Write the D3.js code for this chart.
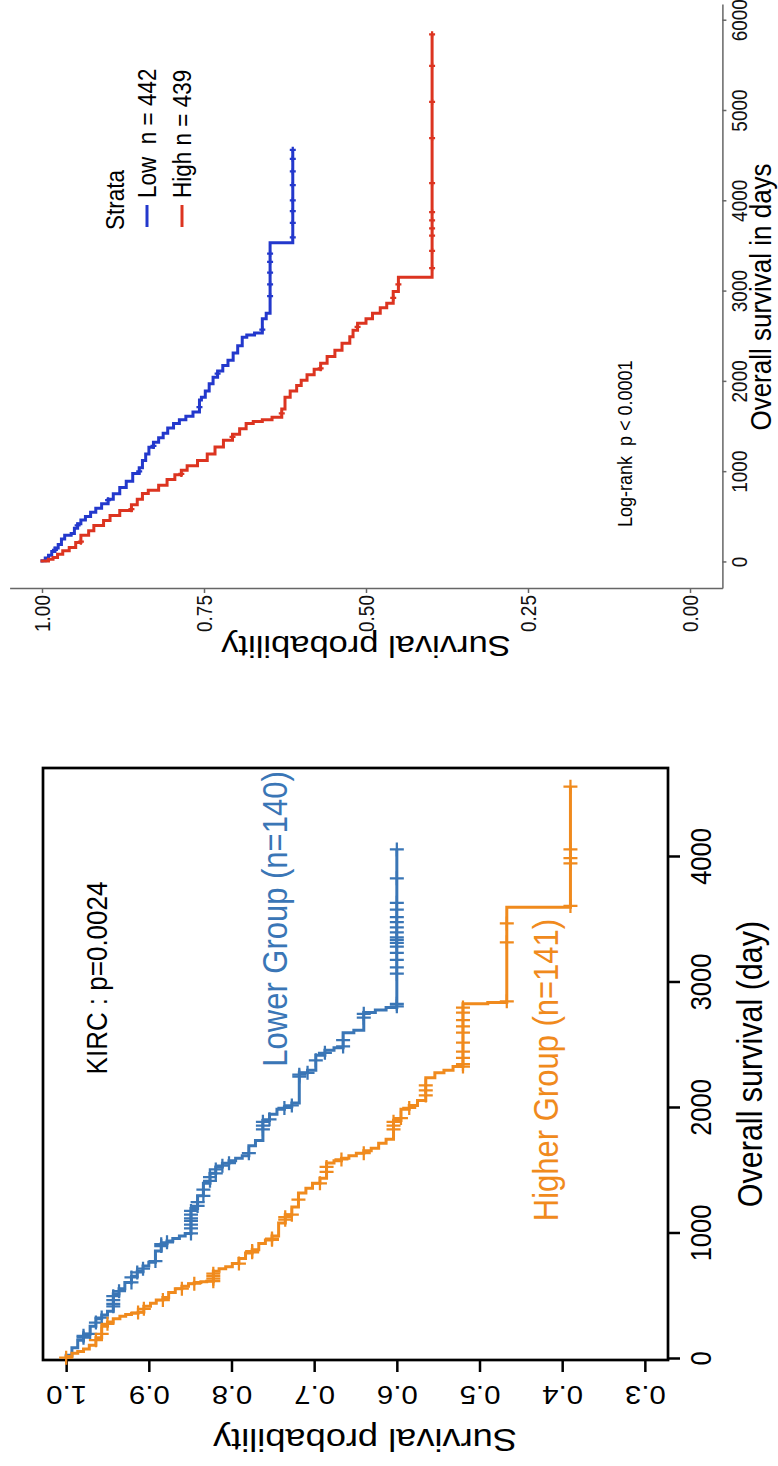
<!DOCTYPE html>
<html>
<head>
<meta charset="utf-8">
<script src="https://cdn.jsdelivr.net/npm/d3@7"></script>
<style>
  body { margin: 0; background: #fff; }
  text { font-family: "Liberation Sans", Arial, sans-serif; white-space: pre; }
</style>
</head>
<body>
<svg width="778" height="1466"></svg>
<script>
// ---- KIRC panel (left in the unrotated figure) ----
const kircTimeTicks = [0, 1000, 2000, 3000, 4000];
const kircSurvTicks = [0.3, 0.4, 0.5, 0.6, 0.7, 0.8, 0.9, 1.0];

// Lower group: event times and survival after each drop
const lowerTime = [30, 90, 150, 200, 260, 320, 350, 380, 520, 560, 610, 660, 700, 740, 770, 860, 920, 940, 960, 980,
  1000, 1200, 1300, 1400, 1480, 1530, 1560, 1580, 1600, 1620, 1700, 1740, 1900, 1950, 1990, 2010, 2040, 2280, 2300,
  2420, 2460, 2480, 2600, 2620, 2760, 2780, 2800];
const lowerSurv = [0.993, 0.986, 0.979, 0.971, 0.964, 0.957, 0.950, 0.943, 0.936, 0.929, 0.921, 0.914, 0.907, 0.900,
  0.892, 0.885, 0.878, 0.871, 0.863, 0.856, 0.849, 0.841, 0.834, 0.826, 0.819, 0.811, 0.803, 0.795, 0.787, 0.779,
  0.771, 0.762, 0.754, 0.745, 0.736, 0.727, 0.718, 0.708, 0.698, 0.687, 0.676, 0.665, 0.652, 0.640, 0.626, 0.613, 0.600];
const lowerCensor = [170, 185, 200, 290, 330, 420, 440, 470, 500, 540, 610, 650, 690, 720, 780, 900, 915, 930, 1000,
  1040, 1070, 1100, 1120, 1150, 1180, 1220, 1250, 1300, 1350, 1420, 1450, 1480, 1510, 1540, 1560, 1640, 1830, 1860,
  1890, 1910, 2000, 2020, 2250, 2265, 2280, 2380, 2440, 2490, 2540, 2720, 2750, 2810, 2830, 3070, 3120, 3180, 3235,
  3285, 3315, 3340, 3360, 3400, 3440, 3480, 3520, 3580, 3635, 3830, 4060];

// Higher group
const higherTime = [20, 45, 60, 80, 110, 170, 260, 295, 320, 340, 355, 365, 375, 420, 445, 470, 490, 530, 560, 580,
  600, 610, 615, 620, 700, 720, 735, 760, 800, 845, 870, 920, 948, 980, 1084, 1150, 1211, 1323, 1360, 1400, 1440,
  1562, 1580, 1600, 1620, 1640, 1660, 1680, 1720, 1750, 1900, 1990, 2020, 2060, 2240, 2280, 2300, 2330, 2830, 2840, 3600];
const higherSurv = [0.993, 0.986, 0.979, 0.972, 0.964, 0.957, 0.950, 0.943, 0.935, 0.928, 0.921, 0.913, 0.906, 0.898,
  0.891, 0.883, 0.876, 0.868, 0.860, 0.852, 0.845, 0.837, 0.830, 0.822, 0.815, 0.807, 0.799, 0.791, 0.783, 0.775,
  0.767, 0.759, 0.751, 0.743, 0.735, 0.727, 0.719, 0.710, 0.702, 0.693, 0.685, 0.676, 0.667, 0.658, 0.649, 0.640,
  0.631, 0.622, 0.613, 0.604, 0.595, 0.585, 0.575, 0.565, 0.554, 0.543, 0.532, 0.520, 0.490, 0.467, 0.390];
const higherCensor = [10, 150, 200, 280, 370, 400, 470, 560, 600, 620, 640, 660, 680, 760, 850, 860, 950, 960, 1110,
  1130, 1150, 1270, 1400, 1490, 1530, 1590, 1640, 1830, 1860, 1890, 1920, 2000, 2100, 2140, 2180, 2330, 2350, 2400,
  2450, 2520, 2600, 2650, 2700, 2760, 2800, 2850, 3320, 3470, 3610, 3950, 3990, 4060, 4560];

// ---- TCGA panel (right in the unrotated figure) ----
const tcgaTimeTicks = [0, 1000, 2000, 3000, 4000, 5000, 6000];
const tcgaSurvTicks = [0, 0.25, 0.5, 0.75, 1];

const lowTime = [20, 50, 80, 120, 160, 200, 260, 300, 320, 380, 430, 470, 510, 555, 600, 650, 700, 760, 830, 900,
  985, 1050, 1130, 1200, 1275, 1330, 1380, 1430, 1490, 1540, 1580, 1620, 1665, 1800, 1830, 1900, 1980, 2050, 2120,
  2180, 2240, 2320, 2400, 2495, 2520, 2540, 2700, 2760, 3540];
const lowSurv = [0.995, 0.99, 0.985, 0.98, 0.975, 0.97, 0.965, 0.955, 0.95, 0.945, 0.94, 0.933, 0.925, 0.917, 0.908,
  0.898, 0.89, 0.88, 0.87, 0.86, 0.85, 0.845, 0.84, 0.835, 0.828, 0.82, 0.813, 0.806, 0.797, 0.788, 0.778, 0.767,
  0.757, 0.754, 0.748, 0.742, 0.736, 0.729, 0.721, 0.713, 0.705, 0.698, 0.691, 0.684, 0.672, 0.66, 0.654, 0.648, 0.613];
const lowCensor = [140, 410, 690, 1010, 1290, 1720, 2090, 2580, 2950, 3080, 3210, 3330, 3420, 3600, 3760, 3890, 4010,
  4180, 4330, 4470, 4570];

const highTime = [15, 35, 55, 90, 130, 166, 220, 300, 350, 410, 465, 520, 576, 640, 700, 765, 800, 854, 920, 970, 1020,
  1070, 1130, 1200, 1280, 1353, 1420, 1480, 1540, 1560, 1580, 1607, 1700, 1830, 1900, 1960, 2018, 2080, 2140, 2206,
  2280, 2350, 2428, 2500, 2572, 2650, 2700, 2760, 2820, 2871, 3000, 3160];
const highSurv = [0.99, 0.983, 0.976, 0.968, 0.958, 0.948, 0.94, 0.928, 0.92, 0.905, 0.895, 0.88, 0.862, 0.853, 0.845,
  0.836, 0.82, 0.807, 0.795, 0.785, 0.776, 0.76, 0.745, 0.733, 0.72, 0.706, 0.695, 0.685, 0.674, 0.66, 0.645, 0.63,
  0.625, 0.617, 0.607, 0.6, 0.591, 0.58, 0.57, 0.56, 0.548, 0.537, 0.525, 0.52, 0.513, 0.5, 0.49, 0.478, 0.468, 0.458,
  0.45, 0.398];
const highCensor = [230, 590, 980, 1390, 1650, 2150, 2610, 2930, 3080, 3260, 3450, 3620, 3700, 3790, 3880, 4200, 4700,
  5100, 5500, 5850];

// whole figure is drawn upright (1466 wide, 778 tall) then turned 90deg counter-clockwise
const svg = d3.select("svg");
const fig = svg.append("g").attr("transform", "translate(0,1466) rotate(-90)");
const K = 1.15; // the picture is a bit stretched across

function label(g, str, u, v, size, opts = {}) {
  return g.append("text")
    .attr("transform", `translate(${u},${v}) scale(1,${K}) rotate(${opts.rot || 0})`)
    .attr("text-anchor", opts.anchor || "middle")
    .attr("dy", "0.35em")
    .attr("font-size", size)
    .attr("fill", opts.color || "#000")
    .text(str);
}

// step data for a KM curve
function km(times, survs, censor) {
  const pts = [[0, 1]];
  times.forEach((t, i) => pts.push([t, survs[i]]));
  const end = d3.max(censor);
  pts.push([end, survs[survs.length - 1]]);
  return pts;
}
function survAt(times, survs, t) {
  let s = 1;
  times.forEach((tt, i) => { if (tt <= t) s = survs[i]; });
  return s;
}

function drawCurve(g, x, y, times, survs, censor, color, width, mark) {
  const line = d3.line().x(d => x(d[0])).y(d => y(d[1])).curve(d3.curveStepAfter);
  g.append("path")
    .datum(km(times, survs, censor))
    .attr("fill", "none")
    .attr("stroke", color)
    .attr("stroke-width", width)
    .attr("d", line);
  g.append("g").selectAll("path")
    .data(censor)
    .join("path")
    .attr("transform", d => `translate(${x(d)},${y(survAt(times, survs, d))})`)
    .attr("d", `M${-mark},0H${mark}M0,${-mark}V${mark}`)
    .attr("stroke", color)
    .attr("stroke-width", width * 0.75)
    .attr("fill", "none");
}

// ---------- KIRC panel ----------
const left = fig.append("g");
const xL = d3.scaleLinear().domain([-8, 4709]).range([106, 698]);
const yL = d3.scaleLinear().domain([0.272, 1.028]).range([668, 43]);

const axL1 = left.append("g").attr("transform", "translate(0,668)")
  .call(d3.axisBottom(xL).tickValues(kircTimeTicks).tickSize(12).tickSizeOuter(0).tickFormat(d3.format("d")));
const axL2 = left.append("g").attr("transform", "translate(106,0)")
  .call(d3.axisLeft(yL).tickValues(kircSurvTicks).tickSize(12).tickSizeOuter(0).tickFormat(d3.format(".1f")));
[axL1, axL2].forEach(a => {
  a.select(".domain").remove();
  a.selectAll(".tick line").attr("stroke", "#000").attr("stroke-width", 2.5);
  a.selectAll("text").attr("font-size", 25.5).attr("fill", "#000").attr("font-family", null)
    .attr("x", null).attr("y", null).attr("dy", "0.35em").attr("text-anchor", "middle");
});
axL1.selectAll("text").attr("transform", `translate(0,33) scale(1,${K})`);
axL2.selectAll("text").attr("transform", `translate(-35,0) scale(1,${K}) rotate(-90)`);

left.append("rect")
  .attr("x", 106).attr("y", 43).attr("width", 592).attr("height", 625)
  .attr("fill", "none").attr("stroke", "#000").attr("stroke-width", 2.7);

drawCurve(left, xL, yL, lowerTime, lowerSurv, lowerCensor, "#3a76b6", 3, 7);
drawCurve(left, xL, yL, higherTime, higherSurv, higherCensor, "#f08a1d", 3, 7);

label(left, "KIRC : p=0.0024", 488, 97, 26);
label(left, "Lower Group (n=140)", 547, 275, 31, { color: "#3a76b6" });
label(left, "Higher Group (n=141)", 396, 546, 31, { color: "#f08a1d" });
label(left, "Overall survival (day)", 402, 750, 30.5);
label(left, "Survival probability", 26, 365, 31.5, { rot: -90 });

// ---------- TCGA panel ----------
const right = fig.append("g");
const xR = d3.scaleLinear().domain([-294, 6174]).range([877, 1461]);
const yR = d3.scaleLinear().domain([-0.05, 1.05]).range([722.4, 9.6]);

const axR1 = right.append("g").attr("transform", "translate(0,722.4)")
  .call(d3.axisBottom(xR).tickValues(tcgaTimeTicks).tickSize(4).tickSizeOuter(0).tickFormat(d3.format("d")));
const axR2 = right.append("g").attr("transform", "translate(877,0)")
  .call(d3.axisLeft(yR).tickValues(tcgaSurvTicks).tickSize(4).tickSizeOuter(0).tickFormat(d3.format(".2f")));
[axR1, axR2].forEach(a => {
  a.select(".domain").attr("stroke", "#666").attr("stroke-width", 1.5);
  a.selectAll(".tick line").attr("stroke", "#666").attr("stroke-width", 1.5);
  a.selectAll("text").attr("font-size", 19).attr("fill", "#111").attr("font-family", null)
    .attr("x", null).attr("y", null).attr("dy", "0.35em");
});
axR1.selectAll("text").attr("text-anchor", "middle").attr("transform", `translate(0,17) scale(1,${K})`);
axR2.selectAll("text").attr("text-anchor", "end").attr("transform", `translate(-6,0) scale(1,${K})`);

drawCurve(right, xR, yR, lowTime, lowSurv, lowCensor, "#2338cc", 3, 3);
drawCurve(right, xR, yR, highTime, highSurv, highCensor, "#dc3420", 3, 3);

label(right, "Overall survival in days", 1169, 761, 26);
label(right, "Survival probability", 819, 366, 30, { rot: -90 });
label(right, "Log-rank  p < 0.0001", 939, 625, 18, { anchor: "start" });

// legend
const leg = right.append("g");
label(leg, "Strata", 1236, 115, 22.5, { anchor: "start" });
[["Low  n = 442", "#2338cc", 147], ["High n = 439", "#dc3420", 182]].forEach(([txt, col, v]) => {
  leg.append("line").attr("x1", 1239).attr("x2", 1261).attr("y1", v).attr("y2", v)
    .attr("stroke", col).attr("stroke-width", 3);
  label(leg, txt, 1268, v, 22.5, { anchor: "start" });
});
</script>
</body>
</html>
